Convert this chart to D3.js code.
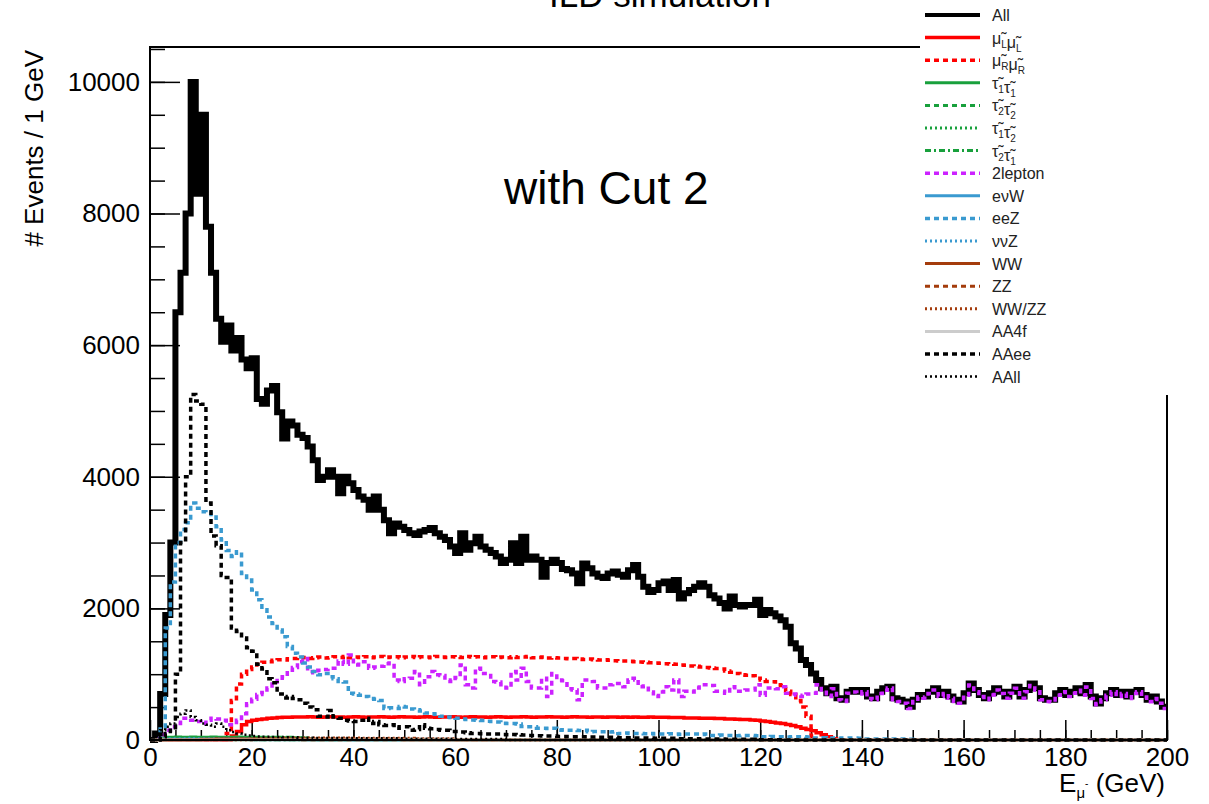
<!DOCTYPE html>
<html>
<head>
<meta charset="utf-8">
<script src="https://cdn.jsdelivr.net/npm/d3@7/dist/d3.min.js"></script>
<style>
  body { margin: 0; background: #fff; }
  svg { display: block; font-family: 'Liberation Sans', Arial, Helvetica, sans-serif; }
</style>
</head>
<body>
<div class="container"></div>
<script>
// 1 GeV bins, 0 - 200 GeV. bins missing at the end of an array are empty
const xTicks = [0, 20, 40, 60, 80, 100, 120, 140, 160, 180, 200]
const yTicks = [0, 2000, 4000, 6000, 8000, 10000]

const allEvents = [
  0, 100, 700, 1900, 3000, 6500, 7100, 8000, 10000, 8300,
  9500, 7800, 7100, 6400, 6050, 6300, 5920, 6110, 5780, 5650,
  5800, 5180, 5110, 5310, 5380, 4980, 4580, 4840, 4780, 4640,
  4590, 4460, 4250, 3950, 4000, 4100, 4000, 3750, 4000, 3900,
  3800, 3700, 3650, 3500, 3700, 3500, 3340, 3140, 3290, 3240,
  3190, 3140, 3115, 3170, 3190, 3220, 3140, 3090, 3040, 2940,
  2840, 3140, 2890, 2990, 3090, 2940, 2890, 2840, 2790, 2690,
  2740, 2990, 2690, 3090, 2740, 2790, 2740, 2480, 2690, 2740,
  2690, 2600, 2580, 2530, 2380, 2680, 2610, 2530, 2480, 2460,
  2530, 2560, 2510, 2480, 2580, 2660, 2480, 2330, 2250, 2280,
  2380, 2410, 2280, 2430, 2150, 2230, 2280, 2330, 2380, 2330,
  2200, 2150, 2080, 2000, 2180, 2050, 2030, 2050, 2050, 2130,
  1900, 1975, 1925, 1875, 1820, 1720, 1470, 1390, 1215, 1140,
  1010, 910, 785, 710, 810, 635, 610, 735, 760, 735,
  760, 660, 635, 735, 785, 810, 635, 610, 585, 505,
  610, 685, 660, 735, 785, 685, 735, 660, 610, 585,
  710, 860, 760, 685, 635, 710, 785, 735, 660, 735,
  810, 660, 760, 860, 785, 635, 610, 610, 710, 760,
  685, 735, 785, 710, 835, 660, 555, 635, 710, 760,
  685, 735, 660, 735, 760, 685, 610, 660, 585, 505
]
const muLmuL = [
  0, 0, 0, 0, 0, 0, 0, 0, 0, 0,
  0, 0, 0, 0, 0, 0, 60, 130, 230, 280,
  300, 310, 320, 330, 335, 340, 345, 345, 350, 350,
  350, 355, 350, 345, 350, 355, 350, 350, 345, 350,
  355, 350, 345, 350, 350, 355, 350, 345, 350, 355,
  350, 350, 345, 350, 355, 350, 345, 350, 350, 355,
  350, 345, 350, 355, 350, 350, 345, 350, 355, 350,
  345, 350, 350, 355, 350, 345, 350, 350, 355, 350,
  350, 345, 350, 355, 350, 350, 345, 350, 350, 345,
  350, 350, 345, 350, 345, 350, 345, 345, 350, 345,
  345, 345, 340, 340, 340, 335, 335, 335, 330, 330,
  330, 325, 325, 320, 320, 315, 310, 310, 305, 300,
  290, 280, 270, 260, 250, 235, 220, 200, 180, 160,
  140, 110, 80, 50, 20
]
const muRmuR = [
  0, 0, 0, 0, 0, 0, 0, 0, 0, 0,
  0, 0, 0, 0, 0, 100, 600, 850, 1000, 1070,
  1110, 1150, 1180, 1190, 1210, 1220, 1215, 1235, 1240, 1245,
  1255, 1240, 1250, 1260, 1245, 1250, 1265, 1255, 1270, 1250,
  1260, 1255, 1265, 1250, 1260, 1270, 1255, 1260, 1265, 1250,
  1260, 1270, 1255, 1265, 1260, 1250, 1270, 1260, 1255, 1265,
  1260, 1255, 1270, 1260, 1265, 1250, 1260, 1265, 1255, 1260,
  1250, 1265, 1255, 1260, 1270, 1250, 1255, 1260, 1245, 1250,
  1245, 1240, 1235, 1240, 1230, 1225, 1230, 1220, 1215, 1220,
  1210, 1205, 1200, 1200, 1195, 1190, 1185, 1180, 1175, 1170,
  1165, 1160, 1155, 1150, 1140, 1135, 1125, 1120, 1110, 1100,
  1095, 1085, 1080, 1050, 1030, 1010, 990, 985, 975, 940,
  910, 890, 885, 840, 830, 740, 690, 600, 500, 360,
  60
]
const tau1tau1 = [
  0, 0, 20, 40, 40, 45, 40, 40, 45, 40,
  40, 40, 45, 40, 40, 40, 40, 45, 40, 40,
  40, 40, 40, 35, 40, 40, 35, 40, 35, 35,
  30, 15
]
const tau2tau2 = [
  0, 0, 5, 10, 15, 15, 15, 15, 15, 15,
  15, 15, 15, 15, 15, 15, 15, 15, 10, 10,
  10, 10, 10, 10, 10, 10, 10, 5, 5, 5
]
const tau1tau2 = [
  0, 0, 5, 10, 10, 10, 10, 10, 10, 10,
  10, 10, 10, 10, 10, 10, 5, 5, 5, 5
]
const tau2tau1 = [
  0, 0, 5, 10, 10, 10, 10, 10, 10, 10,
  10, 10, 10, 10, 10, 5, 5, 5, 5, 5
]
const twoLepton = [
  0, 20, 80, 150, 200, 250, 330, 330, 300, 280,
  250, 300, 330, 320, 300, 230, 230, 300, 400, 550,
  620, 690, 720, 790, 850, 940, 960, 1060, 1100, 1190,
  1240, 1040, 1020, 1060, 1070, 1090, 1090, 1200, 1150, 1290,
  1140, 1150, 1190, 1090, 1110, 1120, 1160, 1170, 910, 890,
  930, 940, 1040, 840, 960, 1040, 990, 980, 910, 890,
  950, 1140, 840, 790, 1090, 1010, 1010, 890, 880, 840,
  790, 1040, 910, 1090, 890, 790, 790, 940, 660, 1010,
  910, 900, 780, 760, 610, 910, 910, 890, 790, 790,
  840, 860, 860, 810, 910, 940, 810, 820, 730, 660,
  730, 810, 760, 910, 660, 740, 730, 790, 840, 840,
  830, 740, 740, 710, 810, 740, 740, 760, 760, 840,
  680, 790, 790, 780, 810, 710, 700, 680, 660, 700,
  710, 840, 760, 660, 780, 610, 585, 710, 730, 700,
  735, 630, 610, 705, 755, 790, 610, 585, 560, 480,
  585, 655, 635, 705, 760, 660, 705, 635, 585, 560,
  680, 835, 735, 660, 610, 685, 760, 705, 635, 710,
  785, 635, 735, 830, 760, 610, 585, 580, 680, 735,
  660, 710, 755, 680, 805, 630, 535, 610, 680, 735,
  660, 705, 630, 705, 735, 655, 580, 630, 560, 480
]
const enuW = [
  0, 0, 5, 10, 10, 10, 10, 10, 10, 10,
  10, 10, 10, 10, 10, 10, 10, 10, 10, 10,
  5, 5, 5, 5, 5, 5, 5, 5, 5, 5
]
const eeZ = [
  0, 0, 200, 1700, 2400, 3000, 3200, 3300, 3600, 3520,
  3470, 3450, 3390, 3240, 3040, 2880, 2790, 2860, 2530, 2430,
  2280, 2130, 1980, 1870, 1770, 1670, 1570, 1420, 1320, 1260,
  1170, 1110, 1040, 990, 1010, 960, 930, 890, 880, 710,
  700, 680, 660, 630, 620, 600, 480, 490, 480, 510,
  500, 470, 460, 440, 410, 400, 390, 360, 350, 340,
  330, 320, 310, 305, 300, 295, 285, 280, 275, 255,
  250, 250, 245, 205, 200, 200, 180, 180, 175, 180,
  150, 155, 150, 150, 145, 150, 125, 130, 125, 125,
  120, 125, 100, 105, 100, 100, 100, 95, 100, 90,
  90, 90, 95, 90, 85, 90, 90, 90, 85, 90,
  70, 70, 75, 70, 70, 65, 70, 70, 70, 65,
  50, 50, 55, 50, 50, 45, 50, 50, 50, 45,
  30, 30, 35, 30, 30, 25, 30, 30, 30, 25,
  15, 15, 15, 15, 15, 15, 15, 15, 15, 10
]
const nunuZ = [
  0, 0, 10, 20, 20, 20, 20, 25, 20, 20,
  20, 20, 20, 20, 20, 20, 20, 20, 20, 20,
  15, 15, 15, 15, 15, 15, 15, 15, 15, 15,
  10, 10, 10, 10, 10, 10, 10, 10, 10, 10
]
const wwPairs = [
  0, 0, 0, 0, 0, 0, 0, 0, 0, 0,
  10, 10, 10, 15, 15, 15, 15, 15, 15, 15,
  15, 15, 15, 15, 15, 15, 15, 15, 15, 15,
  15, 15, 15, 15, 15, 15, 15, 15, 15, 15,
  10, 10, 10, 10, 10, 10, 10, 10, 10, 10
]
const zzPairs = [
  0, 0, 0, 0, 0, 0, 0, 0, 0, 0,
  5, 5, 5, 10, 10, 10, 10, 10, 10, 10,
  10, 10, 10, 10, 10, 10, 10, 10, 10, 10
]
const wwzz = [
  0, 0, 0, 0, 0, 0, 0, 0, 0, 0,
  0, 0, 0, 0, 0, 0, 0, 0, 0, 0,
  20, 20, 25, 25, 25, 25, 30, 30, 30, 30,
  30, 30, 30, 30, 30, 30, 30, 30, 30, 30,
  30, 25, 25, 25, 25, 25, 25, 25, 25, 25,
  25, 25, 20, 20, 20, 20, 20, 20, 20, 20
]
const aa4f = []
const aaee = [
  0, 0, 50, 100, 150, 1000, 3000, 4000, 5250, 5150,
  5100, 3600, 3100, 2950, 2500, 2470, 1700, 1650, 1550, 1400,
  1350, 1150, 1080, 930, 870, 700, 640, 660, 630, 610,
  560, 500, 460, 360, 350, 450, 350, 330, 300, 290,
  280, 300, 330, 250, 280, 230, 220, 230, 180, 200,
  200, 150, 160, 230, 180, 170, 160, 150, 150, 130,
  130, 120, 110, 100, 100, 95, 90, 90, 90, 85,
  80, 85, 80, 75, 70, 70, 65, 60, 60, 60,
  55, 55, 50, 50, 50, 50, 45, 45, 40, 40,
  40, 40, 35, 35, 35, 30, 30, 30, 30, 25,
  25, 25, 25, 20, 20, 20, 20, 20, 15, 15,
  15, 15, 15, 10, 10, 10, 10, 10, 10, 5,
  5, 5, 5, 5, 5
]
const aall = [
  0, 0, 150, 200, 250, 350, 400, 450, 350, 300,
  250, 230, 200, 250, 200, 150, 120, 100, 80, 70,
  60, 55, 50, 50, 45, 45, 40, 40, 40, 35,
  35, 35, 30, 30, 30, 30, 30, 30, 30, 30,
  25, 25, 25, 25, 25, 25, 25, 25, 25, 25,
  20, 20, 20, 20, 20, 20, 20, 20, 20, 20,
  15, 15, 15, 15, 15, 15, 15, 15, 15, 15
]

const legendLabels = ['All', 'μ̃_Lμ̃_L', 'μ̃_Rμ̃_R', 'τ̃_1τ̃_1', 'τ̃_2τ̃_2', 'τ̃_1τ̃_2', 'τ̃_2τ̃_1', '2lepton',
  'eνW', 'eeZ', 'ννZ', 'WW', 'ZZ', 'WW/ZZ', 'AA4f', 'AAee', 'AAll']

// colours / line styles, ROOT like
const red = '#ff0000', green = '#18a03c', violet = '#cc22ff', blue = '#3a9ad0', brown = '#a43c0c', grey = '#cccccc'
const dashed = '5,4', dotted = '2,3', dashdot = '6,3,2,3'

const series = [
  {data: allEvents, color: '#000', width: 6, dash: null},
  {data: muLmuL, color: red, width: 3.5, dash: null},
  {data: muRmuR, color: red, width: 3.5, dash: dashed},
  {data: tau1tau1, color: green, width: 3, dash: null},
  {data: tau2tau2, color: green, width: 3, dash: dashed},
  {data: tau1tau2, color: green, width: 3, dash: dotted},
  {data: tau2tau1, color: green, width: 3, dash: dashdot},
  {data: twoLepton, color: violet, width: 3.5, dash: dashed},
  {data: enuW, color: blue, width: 3, dash: null},
  {data: eeZ, color: blue, width: 3.5, dash: dashed},
  {data: nunuZ, color: blue, width: 3, dash: dotted},
  {data: wwPairs, color: brown, width: 3, dash: null},
  {data: zzPairs, color: brown, width: 3, dash: dashed},
  {data: wwzz, color: brown, width: 3, dash: dotted},
  {data: aa4f, color: grey, width: 3, dash: null},
  {data: aaee, color: '#000', width: 3.5, dash: dashed},
  {data: aall, color: '#000', width: 2.5, dash: dotted}
]

const w = 1209
const h = 804
const frame = {l: 150, r: 1167, t: 47, b: 740}

const svg = d3.select('.container')
              .append('svg')
              .attr('width', w)
              .attr('height', h)

const xScale = d3.scaleLinear().domain([0, 200]).range([frame.l, frame.r])
const yScale = d3.scaleLinear().domain([0, 10530]).range([frame.b, frame.t])

// title, cut off at the top like in the original
svg.append('text')
   .attr('x', 660)
   .attr('y', 7)
   .attr('text-anchor', 'middle')
   .style('font-size', '35px')
   .text('ILD simulation')

// axes: ticks point inside the frame
function styleAxis(g) {
  g.select('.domain').remove()
  g.selectAll('line').attr('stroke', '#000').attr('stroke-width', 1.5)
  g.selectAll('text').style('font-size', '26px').attr('fill', '#000')
}

svg.append('g')
   .attr('transform', 'translate(' + frame.l + ',0)')
   .call(d3.axisLeft(yScale).tickValues(d3.range(0, 10501, 500)).tickSizeInner(-15).tickSizeOuter(0).tickFormat(''))
   .call(styleAxis)
svg.append('g')
   .attr('transform', 'translate(' + frame.l + ',0)')
   .call(d3.axisLeft(yScale).tickValues(yTicks).tickSizeInner(-30).tickSizeOuter(0).tickPadding(10).tickFormat(d3.format('d')))
   .call(styleAxis)

svg.append('g')
   .attr('transform', 'translate(0,' + frame.b + ')')
   .call(d3.axisBottom(xScale).tickValues(d3.range(0, 201, 5)).tickSizeInner(-10).tickSizeOuter(0).tickFormat(''))
   .call(styleAxis)
svg.append('g')
   .attr('transform', 'translate(0,' + frame.b + ')')
   .call(d3.axisBottom(xScale).tickValues(xTicks).tickSizeInner(-20).tickSizeOuter(0).tickPadding(8).tickFormat(d3.format('d')))
   .call(styleAxis)

// axis titles
svg.append('text')
   .attr('transform', 'translate(43,50) rotate(-90)')
   .attr('text-anchor', 'end')
   .style('font-size', '26px')
   .text('# Events / 1 GeV')

let xt = svg.append('text')
            .attr('x', 1165)
            .attr('y', 792)
            .attr('text-anchor', 'end')
            .style('font-size', '26px')
xt.append('tspan').text('E')
xt.append('tspan').attr('dy', 6).style('font-size', '15px').text('μ')
xt.append('tspan').attr('dy', -11).style('font-size', '10px').text('-')
xt.append('tspan').attr('dy', 5).text(' (GeV)')

// histograms, drawn as steps
const line = d3.line()
               .x((d) => xScale(d[0]))
               .y((d) => yScale(d[1]))
               .curve(d3.curveStepAfter)

function steps(arr) {
  let pts = []
  for (let i = 0; i < 200; i++) {
    pts.push([i, i < arr.length ? arr[i] : 0])
  }
  pts.push([200, pts[199][1]])
  return pts
}

svg.append('g')
   .attr('class', 'hists')
   .selectAll('path')
   .data(series)
   .enter()
   .append('path')
   .attr('d', (d) => line(steps(d.data)))
   .attr('fill', 'none')
   .attr('stroke', (d) => d.color)
   .attr('stroke-width', (d) => d.width)
   .attr('stroke-dasharray', (d) => d.dash)

// frame
svg.append('rect')
   .attr('x', frame.l)
   .attr('y', frame.t)
   .attr('width', frame.r - frame.l)
   .attr('height', frame.b - frame.t)
   .attr('fill', 'none')
   .attr('stroke', '#000')
   .attr('stroke-width', 2)

svg.append('text')
   .attr('x', 504)
   .attr('y', 204)
   .style('font-size', '46px')
   .text('with Cut 2')

// legend box covers the top right corner
let legend = svg.append('g').attr('class', 'legend')
legend.append('rect')
      .attr('x', 920)
      .attr('y', -5)
      .attr('width', 300)
      .attr('height', 400)
      .attr('fill', '#fff')

const rowH = 22.6
let rows = legend.selectAll('g.row')
                 .data(series)
                 .enter()
                 .append('g')
                 .attr('class', 'row')
                 .attr('transform', (d, i) => 'translate(0,' + (15 + i * rowH) + ')')
rows.append('line')
    .attr('x1', 925)
    .attr('x2', 980)
    .attr('stroke', (d) => d.color)
    .attr('stroke-width', (d) => Math.min(d.width, 4))
    .attr('stroke-dasharray', (d) => d.dash)

rows.each(function(d, i) {
  let t = d3.select(this).append('text')
            .attr('x', 992)
            .attr('y', 6)
            .attr('fill', '#222')
            .style('font-size', '16px')
  let parts = legendLabels[i].split(/(_.)/)
  parts.forEach((p) => {
    if (p === '') return
    if (p[0] === '_') {
      t.append('tspan').attr('dy', 4).style('font-size', '10px').text(p.slice(1))
      t.append('tspan').attr('dy', -4).text('')
    } else {
      t.append('tspan').text(p)
    }
  })
})
</script>
</body>
</html>
